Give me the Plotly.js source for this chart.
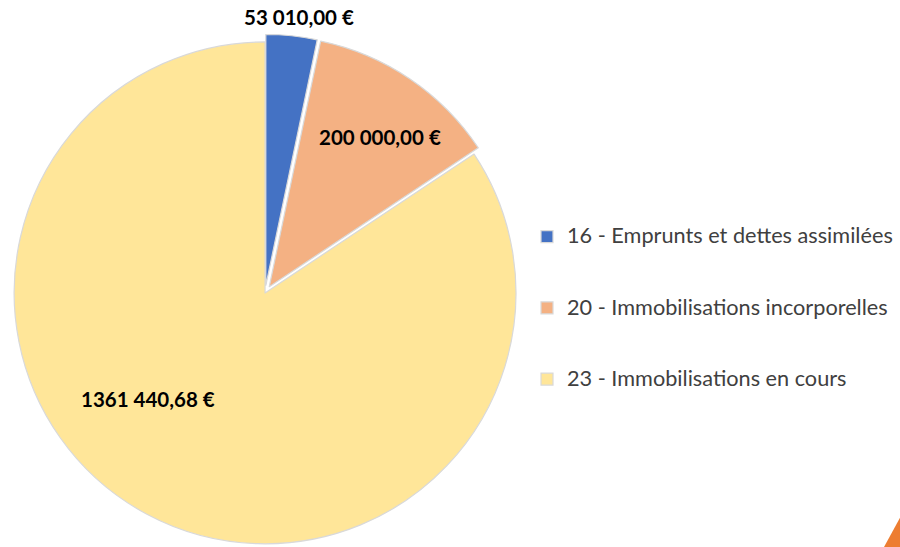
<!DOCTYPE html>
<html>
<head>
<meta charset="utf-8">
<script src="https://cdn.plot.ly/plotly-3.0.1.min.js"></script>
<style>
html,body{margin:0;padding:0;background:#fff;overflow:hidden;width:900px;height:547px;}
#chart{width:900px;height:560px;}
</style>
</head>
<body>
<div id="chart"></div>
<script>
// Data
const categories = [
  "16 - Emprunts et dettes assimilées",
  "20 - Immobilisations incorporelles",
  "23 - Immobilisations en cours"
];
const values = [53010.00, 200000.00, 1361440.68];
const valueLabels = ["53 010,00 €", "200 000,00 €", "1361 440,68 €"];
const colors = ["#4472C4", "#F4B183", "#FFE699"];
const pulls = [0.03, 0.03, 0];

const H = 560;
const trace = {
  type: "pie",
  labels: categories.map(c => "&nbsp;<br><span style=\"font-size:21.7px\">" + c + "</span><br>&nbsp;"),
  values: values,
  sort: false,
  direction: "clockwise",
  rotation: 0,
  pull: pulls,
  textinfo: "none",
  hoverinfo: "value",
  marker: {colors: colors, line: {color: "#D9D9D9", width: 1.2}},
  domain: {x: [0.0055, 0.5835], y: [0.0155, 0.9385]}
};

const labelPos = [[299, 17], [380, 137], [148, 399]];
const annotations = valueLabels.map((t, i) => ({
  text: t, showarrow: false, xref: "paper", yref: "paper",
  x: labelPos[i][0] / 900, y: (H - labelPos[i][1]) / H,
  xanchor: "center", yanchor: "middle",
  font: {family: "Lato, sans-serif", size: 20.5, color: "#000", weight: "bold"}
}));

const layout = {
  width: 900, height: H,
  margin: {l: 0, r: 0, t: 0, b: 0},
  paper_bgcolor: "#fff",
  showlegend: true,
  legend: {
    x: 527 / 900, xanchor: "left", y: (H - 308) / H, yanchor: "middle",
    font: {family: "Lato, sans-serif", size: 17.5, color: "#404040"},
    bgcolor: "rgba(0,0,0,0)"
  },
  annotations: annotations,
  shapes: [{
    type: "path", xref: "paper", yref: "paper",
    path: "M " + (884/900) + "," + ((H-547)/H) + " L " + (901/900) + "," + ((H-516)/H) + " L " + (901/900) + "," + ((H-547)/H) + " Z",
    fillcolor: "#ED7D31", line: {width: 0}
  }]
};

Plotly.newPlot("chart", [trace], layout, {displayModeBar: false, staticPlot: true});
</script>
</body>
</html>
